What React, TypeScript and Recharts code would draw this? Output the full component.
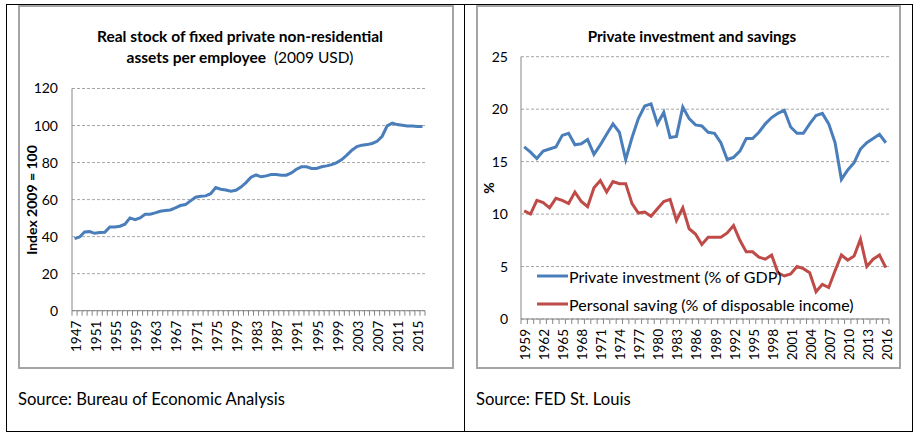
import React from 'react';
import { ComposedChart, Line, XAxis, YAxis, CartesianGrid, Legend } from 'recharts';

// ---------- Left chart data ----------
const stockYears = [
  '1947','1948','1949','1950','1951','1952','1953','1954','1955','1956',
  '1957','1958','1959','1960','1961','1962','1963','1964','1965','1966',
  '1967','1968','1969','1970','1971','1972','1973','1974','1975','1976',
  '1977','1978','1979','1980','1981','1982','1983','1984','1985','1986',
  '1987','1988','1989','1990','1991','1992','1993','1994','1995','1996',
  '1997','1998','1999','2000','2001','2002','2003','2004','2005','2006',
  '2007','2008','2009','2010','2011','2012','2013','2014','2015','2016',
];
const stockIndex = [
  38.9, 39.8, 42.5, 42.7, 41.8, 42.2, 42.3, 45.2, 45.2, 45.6,
  46.7, 50.1, 49.2, 50.1, 52.1, 52.1, 52.8, 53.7, 54.1, 54.4,
  55.5, 56.8, 57.3, 59.3, 61.3, 61.8, 62.0, 63.2, 66.5, 65.6,
  65.2, 64.5, 65.0, 66.8, 69.2, 72.1, 73.3, 72.3, 72.8, 73.5,
  73.5, 73.2, 73.2, 74.4, 76.4, 77.7, 77.7, 76.8, 76.8, 77.7,
  78.2, 78.9, 80.0, 81.6, 84.0, 86.7, 88.6, 89.4, 89.7, 90.3,
  91.5, 94.2, 99.8, 101.3, 100.5, 100.2, 99.8, 99.8, 99.5, 99.5,
];
const stockTicks = [0, 20, 40, 60, 80, 100, 120];

// ---------- Right chart data ----------
const invYears = [
  '1959','1960','1961','1962','1963','1964','1965','1966','1967','1968',
  '1969','1970','1971','1972','1973','1974','1975','1976','1977','1978',
  '1979','1980','1981','1982','1983','1984','1985','1986','1987','1988',
  '1989','1990','1991','1992','1993','1994','1995','1996','1997','1998',
  '1999','2000','2001','2002','2003','2004','2005','2006','2007','2008',
  '2009','2010','2011','2012','2013','2014','2015','2016',
];
const privateInvestment = [
  16.4, 15.9, 15.3, 16.0, 16.2, 16.4, 17.5, 17.7, 16.6, 16.7,
  17.1, 15.7, 16.6, 17.6, 18.6, 17.8, 15.2, 17.3, 19.1, 20.3,
  20.5, 18.6, 19.7, 17.3, 17.4, 20.2, 19.1, 18.5, 18.4, 17.8,
  17.7, 16.8, 15.2, 15.4, 16.0, 17.2, 17.2, 17.8, 18.6, 19.2,
  19.6, 19.9, 18.3, 17.7, 17.7, 18.6, 19.4, 19.6, 18.6, 16.8,
  13.3, 14.2, 14.9, 16.2, 16.8, 17.2, 17.6, 16.8,
];
const personalSaving = [
  10.3, 10.0, 11.3, 11.1, 10.6, 11.5, 11.3, 11.0, 12.1, 11.2,
  10.7, 12.5, 13.2, 12.1, 13.1, 12.9, 12.9, 11.0, 10.1, 10.2,
  9.8, 10.5, 11.2, 11.4, 9.4, 10.6, 8.6, 8.1, 7.1, 7.8,
  7.8, 7.8, 8.2, 8.9, 7.5, 6.4, 6.4, 5.9, 5.7, 6.1,
  4.4, 4.1, 4.3, 5.0, 4.8, 4.4, 2.6, 3.3, 3.0, 4.6,
  6.1, 5.6, 6.0, 7.6, 5.0, 5.7, 6.1, 4.9,
];
const invTicks = [0, 5, 10, 15, 20, 25];
const seriesNames = ['Private investment (% of GDP)', 'Personal saving (% of disposable income)'];

const stockData = stockYears.map((y, i) => ({ year: y, index: stockIndex[i] }));
const invData = invYears.map((y, i) => ({ year: y, inv: privateInvestment[i], sav: personalSaving[i] }));

const FONT = "Lato, 'Open Sans', sans-serif";
const BLUE = '#4a7ebb';
const RED = '#be4b48';
const AXIS = '#868686';
const GRID = '#a6a6a6';

function makeXTick(n: number, every: number, plotWidth: number) {
  const bw = plotWidth / n;
  return (props: any) => {
    const { x, y, payload } = props;
    const i = payload && payload.index != null ? payload.index : props.index;
    const showLabel = i % every === 0;
    const ly = y + 10;
    return (
      <g>
        <line x1={x - bw / 2} y1={y} x2={x - bw / 2} y2={y + 5} stroke={AXIS} strokeWidth={1} />
        {i === n - 1 && (
          <line x1={x + bw / 2} y1={y} x2={x + bw / 2} y2={y + 5} stroke={AXIS} strokeWidth={1} />
        )}
        {showLabel && (
          <text
            x={x + 1}
            y={ly}
            transform={`rotate(-90, ${x + 1}, ${ly})`}
            textAnchor="end"
            dominantBaseline="central"
            fontSize={13.5}
            fontFamily={FONT}
            fill="#000"
          >
            {payload.value}
          </text>
        )}
      </g>
    );
  };
}

const yTickStyle = { fontSize: 14, fontFamily: FONT, fill: '#000' };

function LegendContent() {
  const items = [
    { name: seriesNames[0], color: BLUE },
    { name: seriesNames[1], color: RED },
  ];
  return (
    <div style={{ fontFamily: FONT, fontSize: 16, color: '#000' }}>
      {items.map((it) => (
        <div key={it.name} style={{ display: 'flex', alignItems: 'center', height: 28, whiteSpace: 'nowrap' }}>
          <svg width={31} height={6} style={{ display: 'block' }}>
            <line x1={0} y1={3} x2={31} y2={3} stroke={it.color} strokeWidth={3} />
          </svg>
          <span style={{ marginLeft: 1 }}>{it.name}</span>
        </div>
      ))}
    </div>
  );
}

export default function App() {
  const leftW = 436, leftH = 364;
  const rightW = 425, rightH = 364;
  const leftPlotW = leftW - 54 - 29;
  const rightPlotW = rightW - 45 - 12;
  return (
    <div style={{ position: 'absolute', left: 0, top: 0, width: 920, height: 441, background: '#fff', fontFamily: FONT, overflow: 'hidden' }}>
      {/* outer table borders */}
      <div style={{ position: 'absolute', left: 6, top: 4, width: 907, height: 428, border: '1.5px solid #000', boxSizing: 'border-box' }} />
      <div style={{ position: 'absolute', left: 463.5, top: 4, width: 1.5, height: 428, background: '#000' }} />

      {/* left chart frame */}
      <div style={{ position: 'absolute', left: 18, top: 5, width: 436, height: 364, border: '2px solid #a5a5a5', boxSizing: 'border-box' }} />
      <div style={{ position: 'absolute', left: 40, top: 26, width: 400, textAlign: 'center', fontSize: 15.5, lineHeight: '21px', color: '#000' }}>
        <div style={{ fontWeight: 700 }}>Real stock of fixed private non-residential</div>
        <div><span style={{ fontWeight: 700 }}>assets per employee</span><span style={{ whiteSpace: 'pre' }}>  (2009 USD)</span></div>
      </div>
      <div style={{ position: 'absolute', left: 31, top: 200, transform: 'translate(-50%, -50%) rotate(-90deg)', whiteSpace: 'nowrap', fontSize: 14, fontWeight: 700, color: '#000' }}>
        Index 2009 = 100
      </div>
      <div style={{ position: 'absolute', left: 18, top: 5 }}>
        <ComposedChart width={leftW} height={leftH} data={stockData} margin={{ top: 83.5, right: 29, bottom: 8.3, left: 0 }}>
          <CartesianGrid vertical={false} stroke={GRID} strokeDasharray="3 2" />
          <XAxis
            dataKey="year"
            scale="band"
            interval={0}
            height={50}
            tickSize={0}
            tickMargin={0}
            tickLine={false}
            axisLine={{ stroke: AXIS }}
            tick={makeXTick(stockYears.length, 4, leftPlotW)}
          />
          <YAxis
            width={54}
            domain={[0, 120]}
            ticks={stockTicks}
            interval={0}
            tickSize={0}
            tickMargin={14}
            tickLine={false}
            axisLine={{ stroke: AXIS }}
            tick={yTickStyle}
          />
          <Line dataKey="index" stroke={BLUE} strokeWidth={3} dot={false} isAnimationActive={false} />
        </ComposedChart>
      </div>
      <div style={{ position: 'absolute', left: 18, top: 389, fontSize: 16.6, color: '#000', whiteSpace: 'nowrap' }}>
        Source: Bureau of Economic Analysis
      </div>

      {/* right chart frame */}
      <div style={{ position: 'absolute', left: 476, top: 5, width: 425, height: 364, border: '2px solid #a5a5a5', boxSizing: 'border-box' }} />
      <div style={{ position: 'absolute', left: 492, top: 26, width: 400, textAlign: 'center', fontSize: 15.2, lineHeight: '21px', fontWeight: 700, color: '#000' }}>
        Private investment and savings
      </div>
      <div style={{ position: 'absolute', left: 488, top: 188, transform: 'translate(-50%, -50%) rotate(-90deg)', whiteSpace: 'nowrap', fontSize: 14, fontWeight: 700, color: '#000' }}>
        %
      </div>
      <div style={{ position: 'absolute', left: 476, top: 5 }}>
        <ComposedChart width={rightW} height={rightH} data={invData} margin={{ top: 51.7, right: 12, bottom: 8, left: 0 }}>
          <CartesianGrid vertical={false} stroke={GRID} strokeDasharray="3 2" />
          <XAxis
            dataKey="year"
            scale="band"
            interval={0}
            height={42}
            tickSize={0}
            tickMargin={0}
            tickLine={false}
            axisLine={{ stroke: AXIS }}
            tick={makeXTick(invYears.length, 3, rightPlotW)}
          />
          <YAxis
            width={45}
            domain={[0, 25]}
            ticks={invTicks}
            interval={0}
            tickSize={0}
            tickMargin={13}
            tickLine={false}
            axisLine={{ stroke: AXIS }}
            tick={yTickStyle}
          />
          <Legend
            layout="vertical"
            align="center"
            verticalAlign="middle"
            wrapperStyle={{ position: 'absolute', left: 61, top: 257, width: 'auto' }}
            content={() => <LegendContent />}
          />
          <Line dataKey="inv" name={seriesNames[0]} stroke={BLUE} strokeWidth={3} dot={false} isAnimationActive={false} />
          <Line dataKey="sav" name={seriesNames[1]} stroke={RED} strokeWidth={3} dot={false} isAnimationActive={false} />
        </ComposedChart>
      </div>
      <div style={{ position: 'absolute', left: 476, top: 389, fontSize: 16.6, color: '#000', whiteSpace: 'nowrap' }}>
        Source: FED St. Louis
      </div>
    </div>
  );
}
